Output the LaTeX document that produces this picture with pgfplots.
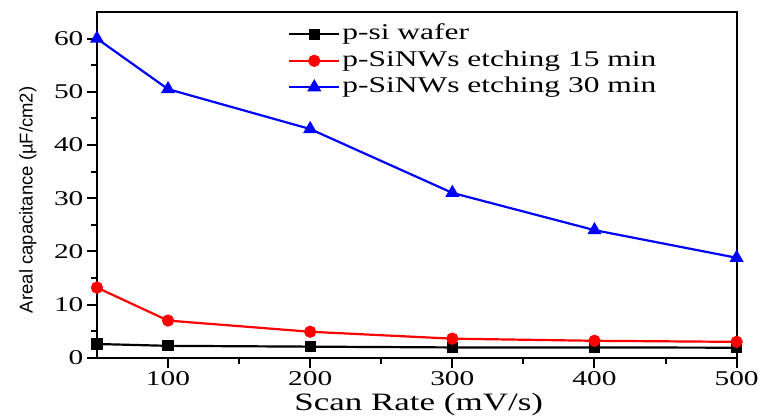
\documentclass[border=0pt]{standalone}
\usepackage{fontspec}
\setmainfont{Liberation Serif}[FakeStretch=1.4]
\newfontfamily\ylfont{Liberation Sans}
\usepackage{pgfplots}
\pgfplotsset{compat=1.18}
\begin{document}
\begin{tikzpicture}
\begin{axis}[
 scale only axis, width=640pt, height=346pt,
 xmin=50, xmax=500, ymin=0, ymax=65,
 xtick={100,200,300,400,500}, ytick={0,10,...,60},
 minor x tick num=1, minor y tick num=1,
 tick align=outside, xtick pos=bottom, ytick pos=left,
 major tick length=10pt, minor tick length=6pt,
 axis line style={line width=2.2pt},
 tick style={line width=2pt, black},
 /pgf/number format/assume math mode=true,
 ticklabel style={font=\fontsize{21}{21}\selectfont},
 xlabel={Scan Rate (mV/s)},
 xlabel style={font=\fontsize{25}{26}\selectfont, at={(axis description cs:0.503,-0.136)}, anchor=center},
 ylabel={\ylfont Areal capacitance (µF/cm2)},
 ylabel style={font=\fontsize{18.5}{19}\selectfont, at={(axis description cs:-0.108,0.457)}, anchor=center},
 legend style={draw=none, fill=none, at={(axis description cs:0.294,0.975)}, anchor=north west,
   font=\fontsize{22.5}{22.5}\selectfont, row sep=3.5pt,
   nodes={text height=15pt, text depth=4pt, inner sep=2pt},
   /tikz/every even column/.append style={column sep=3pt}},
 legend cell align=left,
 legend image code/.code={\draw[mark repeat=2,mark phase=2] plot coordinates {(0pt,0pt)(25pt,0pt)(50pt,0pt)};},
]
\addplot[black, line width=2.2pt, mark=square*, mark size=4.5pt] coordinates {
 (50,2.6) (100,2.25) (200,2.1) (300,1.95) (400,1.95) (500,1.9)};
\addlegendentry{p-si wafer}
\addplot[red, line width=2.2pt, mark=*, mark size=5pt] coordinates {
 (50,13.2) (100,7.0) (200,4.9) (300,3.6) (400,3.2) (500,3.0)};
\addlegendentry{p-SiNWs etching 15 min}
\addplot[blue, line width=2.2pt, mark=triangle*, mark size=6pt] coordinates {
 (50,60) (100,50.5) (200,43) (300,31) (400,24) (500,18.8)};
\addlegendentry{p-SiNWs etching 30 min}
\end{axis}
\path ([shift={(-97pt,-59pt)}]current axis.south west) rectangle ([shift={(25pt,12pt)}]current axis.north east);
\end{tikzpicture}
\end{document}
